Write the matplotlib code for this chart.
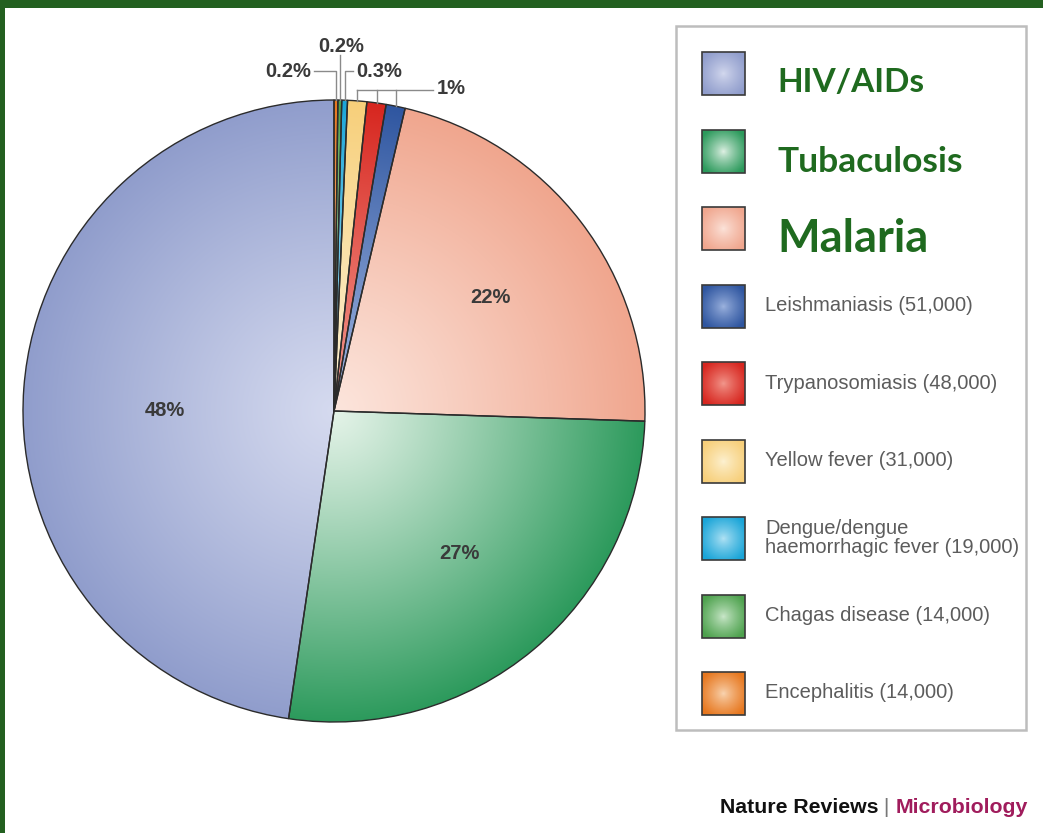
import numpy as np
import matplotlib
matplotlib.use("Agg")
import matplotlib.pyplot as plt
from matplotlib.patches import Rectangle
from matplotlib.colors import to_rgb

# ---------------- data ----------------
diseases = ["HIV/AIDs", "Tubaculosis", "Malaria",
            "Leishmaniasis (51,000)", "Trypanosomiasis (48,000)",
            "Yellow fever (31,000)",
            "Dengue/dengue\nhaemorrhagic fever (19,000)",
            "Chagas disease (14,000)", "Encephalitis (14,000)"]
shares = [48, 27, 22, 1, 1, 1, 0.3, 0.2, 0.2]
share_labels = ["48%", "27%", "22%", "1%", "1%", "1%", "0.3%", "0.2%", "0.2%"]

# ---------------- style ----------------
base_colors = ["#909dcc", "#2c9a5c", "#f0a68e", "#2f56a0", "#d7261f",
               "#f7cf7a", "#1aa5d8", "#4ea24e", "#e7771e"]
light_colors = ["#d5daef", "#e4f3e8", "#fce5dc", "#9fb5e0", "#f39a8f",
                "#fdf2d4", "#b5e4f5", "#cde9cd", "#f9d6b4"]
GREEN = "#236020"
W, H = 1043, 833

fig = plt.figure(figsize=(W / 100, H / 100), dpi=100)
ax = fig.add_axes([0, 0, 1, 1])

cx, cy, R = 334, H - 411, 311
wedges, _ = ax.pie(shares, colors=base_colors, startangle=90, counterclock=True,
                   center=(cx, cy), radius=R,
                   wedgeprops=dict(edgecolor="#2b2b2b", linewidth=1.0))

# radial gradient fill for each wedge
n = 500
xx, yy = np.meshgrid(np.linspace(cx - R, cx + R, n), np.linspace(cy - R, cy + R, n))
t = np.clip(np.hypot(xx - cx, yy - cy) / R, 0, 1) ** 1.1
for w, bc, lc in zip(wedges, base_colors, light_colors):
    b = np.array(to_rgb(bc)); l = np.array(to_rgb(lc))
    img = l + (b - l) * t[..., None]
    im = ax.imshow(img, extent=(cx - R, cx + R, cy - R, cy + R), origin="lower",
                   zorder=1, interpolation="bilinear")
    im.set_clip_path(w)
    w.set_facecolor("none")
    w.set_zorder(2)

lab_font = dict(family=["Liberation Sans", "DejaVu Sans"], fontweight="bold",
                fontsize=14.5, color="#3a3a3a", zorder=5)

# labels inside the large wedges
label_r = [0.545, 0.61, 0.62]
label_shift = [4.2, 1.5, -1.5]
for i in range(3):
    w = wedges[i]
    a = np.radians((w.theta1 + w.theta2) / 2 + label_shift[i])
    ax.text(cx + label_r[i] * R * np.cos(a), cy + label_r[i] * R * np.sin(a),
            share_labels[i], ha="center", va="center", **lab_font)


def top_point(i):
    w = wedges[i]
    a = np.radians((w.theta1 + w.theta2) / 2)
    return cx + R * np.cos(a), cy + R * np.sin(a)


lc_ = "#8a8a8a"
lw_ = 1.0
# encephalitis 0.2%
px, py = top_point(8)
yl = H - 71
ax.plot([px, px, 314], [py, yl, yl], color=lc_, lw=lw_, zorder=4)
ax.text(311, yl, share_labels[8], ha="right", va="center", **lab_font)
# chagas 0.2%
px, py = top_point(7)
ax.plot([px, px], [py, H - 55], color=lc_, lw=lw_, zorder=4)
ax.text(341, H - 46, share_labels[7], ha="center", va="center", **lab_font)
# dengue 0.3%
px, py = top_point(6)
ax.plot([px, px, 353], [py, yl, yl], color=lc_, lw=lw_, zorder=4)
ax.text(356, yl, share_labels[6], ha="left", va="center", **lab_font)
# 1% group
yl1 = H - 90
pts = [top_point(i) for i in (5, 4, 3)]
ax.plot([pts[0][0], 433], [yl1, yl1], color=lc_, lw=lw_, zorder=4)
for px, py in pts:
    ax.plot([px, px], [py, yl1], color=lc_, lw=lw_, zorder=4)
ax.text(437, H - 88, share_labels[3], ha="left", va="center", **lab_font)

# ---------------- legend ----------------
ax.add_patch(Rectangle((676, H - 730), 350, 704, facecolor="none",
                       edgecolor="#bdbdbd", lw=1.8, zorder=3))
s = 43
gx, gy = np.meshgrid(np.linspace(-1, 1, 60), np.linspace(-1, 1, 60))
gt = np.clip(np.hypot(gx, gy) / 1.2, 0, 1) ** 0.8
big_sizes = [24, 25.5, 32.5]
big_offs = [18.5, 21, 23.5]
for i, (name, bc, lc) in enumerate(zip(diseases, base_colors, light_colors)):
    yc = H - (73.5 + 77.5 * i)
    b = np.array(to_rgb(bc)); l = np.array(to_rgb(lc))
    img = l + (b - l) * gt[..., None]
    ax.imshow(img, extent=(702, 702 + s, yc - s / 2, yc + s / 2), origin="lower",
              zorder=3, interpolation="bilinear")
    ax.add_patch(Rectangle((702, yc - s / 2), s, s, facecolor="none",
                           edgecolor="#3a3a3a", lw=1.2, zorder=4))
    if i < 3:
        ax.text(777, yc - big_offs[i], name, ha="left", va="baseline",
                fontsize=big_sizes[i], fontweight="bold", color="#1f6a1f",
                family=["Lato", "DejaVu Sans"], zorder=5)
    else:
        lines = name.split("\n")
        nl = len(lines)
        for k, line in enumerate(lines):
            yb = yc - 5 - (k - (nl - 1) / 2) * 19
            ax.text(765, yb, line, ha="left", va="baseline", fontsize=14.5,
                    color="#5c5c5c", family=["Liberation Sans", "DejaVu Sans"],
                    zorder=5)

# ---------------- credit ----------------
cf = dict(family=["Liberation Sans", "DejaVu Sans"], fontsize=15.3, fontweight="bold")
t1 = ax.text(720, H - 813, "Nature Reviews", ha="left", va="baseline",
             color="#111111", **cf)
t2 = ax.annotate(" | ", xy=(1, 0), xycoords=t1, ha="left", va="bottom",
                 color="#777777", family=["Liberation Sans", "DejaVu Sans"],
                 fontsize=15.3)
t3 = ax.annotate("Microbiology", xy=(1, 0), xycoords=t2, ha="left", va="bottom",
                 color="#a01c5c", **cf)

ax.set_xlim(0, W)
ax.set_ylim(0, H)
ax.set_aspect("auto")
ax.axis("off")

# green frame
fig.add_artist(Rectangle((0, 1 - 8 / H), 1, 8 / H, transform=fig.transFigure,
                         facecolor=GREEN, edgecolor="none", zorder=10))
fig.add_artist(Rectangle((0, 0), 5 / W, 1, transform=fig.transFigure,
                         facecolor=GREEN, edgecolor="none", zorder=10))

fig.savefig("out.png", dpi=100)
